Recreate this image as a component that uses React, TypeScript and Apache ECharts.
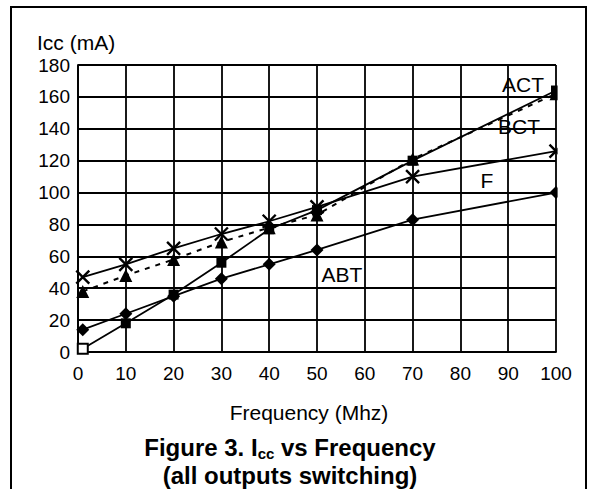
import React, { useEffect, useRef } from "react";
import * as echarts from "echarts";

// ---- data ----
const frequencies = [1, 10, 20, 30, 40, 50, 70, 100];
const actValues = [2, 18, 36, 56, 77, 89, 120, 164];
const bctValues = [38, 48, 58, 69, 78, 86, 121, 162];
const fValues = [47, 55, 65, 74, 82, 91, 110, 126];
const abtValues = [14, 24, 35, 46, 55, 64, 83, 100];
const seriesNames = ["ACT", "BCT", "F", "ABT"];
const yAxisTitle = "Icc (mA)";
const xAxisTitle = "Frequency (Mhz)";
const titleLine2 = "(all outputs switching)";

const FONT = "'Liberation Sans', Arial, Helvetica, sans-serif";

const pairs = (vals: number[]) => frequencies.map((f, i) => [f, vals[i]]);

export default function App() {
  const ref = useRef<HTMLDivElement>(null);

  useEffect(() => {
    if (!ref.current) return;
    const chart = echarts.init(ref.current, null, { renderer: "svg" });

    const lineBase = (name: string, vals: number[], symbol: string, size: number, dashed = false) => ({
      name,
      type: "line",
      data: pairs(vals),
      symbol,
      symbolSize: size,
      showAllSymbol: true,
      clip: false,
      lineStyle: { color: "#000", width: dashed ? 2 : 1.8, type: dashed ? [5, 6] : "solid" },
      itemStyle: { color: "#000", borderColor: "#000", borderWidth: 0 },
      z: 3,
    });

    const actData = pairs(actValues).map((p, i) =>
      i === 0
        ? { value: p, itemStyle: { color: "#fff", borderColor: "#000", borderWidth: 2 } }
        : { value: p }
    );

    const label = (text: string, x: number, y: number, font = `21px ${FONT}`, align = "center") => ({
      type: "text",
      z: 100,
      style: { text, x, y, font, fill: "#000", align, verticalAlign: "middle", textAlign: align, textVerticalAlign: "middle" },
    });

    const option: any = {
      animation: false,
      backgroundColor: "#fff",
      textStyle: { fontFamily: FONT, color: "#000" },
      grid: { left: 78, right: 34, top: 65, bottom: 137, containLabel: false },
      xAxis: {
        type: "value",
        min: 0,
        max: 100,
        interval: 10,
        axisLine: { show: true, lineStyle: { color: "#000", width: 1.8 } },
        axisTick: { show: false },
        splitLine: { show: true, lineStyle: { color: "#000", width: 1.8 } },
        axisLabel: { color: "#000", fontSize: 19, fontFamily: FONT, margin: 12 },
      },
      yAxis: {
        type: "value",
        min: 0,
        max: 180,
        interval: 20,
        axisLine: { show: true, lineStyle: { color: "#000", width: 1.8 } },
        axisTick: { show: false },
        splitLine: { show: true, lineStyle: { color: "#000", width: 1.8 } },
        axisLabel: { color: "#000", fontSize: 19, fontFamily: FONT, margin: 8 },
      },
      series: [
        { ...lineBase(seriesNames[0], actValues, "rect", 10), data: actData },
        lineBase(seriesNames[1], bctValues, "triangle", 13, true),
        {
          ...lineBase(seriesNames[2], fValues, "path://M0,0L10,10M10,0L0,10", 13),
          itemStyle: { color: "none", borderColor: "#000", borderWidth: 2.4 },
        },
        lineBase(seriesNames[3], abtValues, "diamond", 13),
      ],
      graphic: [
        {
          type: "rect",
          z: 100,
          shape: { x: 557.6, y: 60, width: 26, height: 150 },
          style: { fill: "#fff" },
          silent: true,
        },
        {
          type: "rect",
          z: 100,
          shape: { x: 11, y: 7, width: 575, height: 600 },
          style: { fill: "none", stroke: "#000", lineWidth: 2 },
          silent: true,
        },
        label(yAxisTitle, 37, 42, `21px ${FONT}`, "left"),
        label(seriesNames[0], 523, 84),
        label(seriesNames[1], 519, 126),
        label(seriesNames[2], 487, 180),
        label(seriesNames[3], 342, 274),
        label(xAxisTitle, 309, 412),
        {
          type: "text",
          z: 100,
          style: {
            text: "{t|Figure 3. I}{s|cc}{t| vs Frequency}",
            x: 290,
            y: 447,
            align: "center",
            verticalAlign: "middle",
            textAlign: "center",
            textVerticalAlign: "middle",
            fill: "#000",
            rich: {
              t: { fontSize: 24, fontWeight: "bold", fontFamily: FONT, lineHeight: 28, color: "#000" },
              s: { fontSize: 15, fontWeight: "bold", fontFamily: FONT, lineHeight: 14, verticalAlign: "bottom", color: "#000" },
            },
          },
        },
        label(titleLine2, 290, 475, `bold 24px ${FONT}`),
      ],
    };

    chart.setOption(option);
    return () => chart.dispose();
  }, []);

  return (
    <div
      ref={ref}
      style={{ position: "absolute", left: 0, top: 0, width: 590, height: 489, background: "#fff" }}
    />
  );
}
